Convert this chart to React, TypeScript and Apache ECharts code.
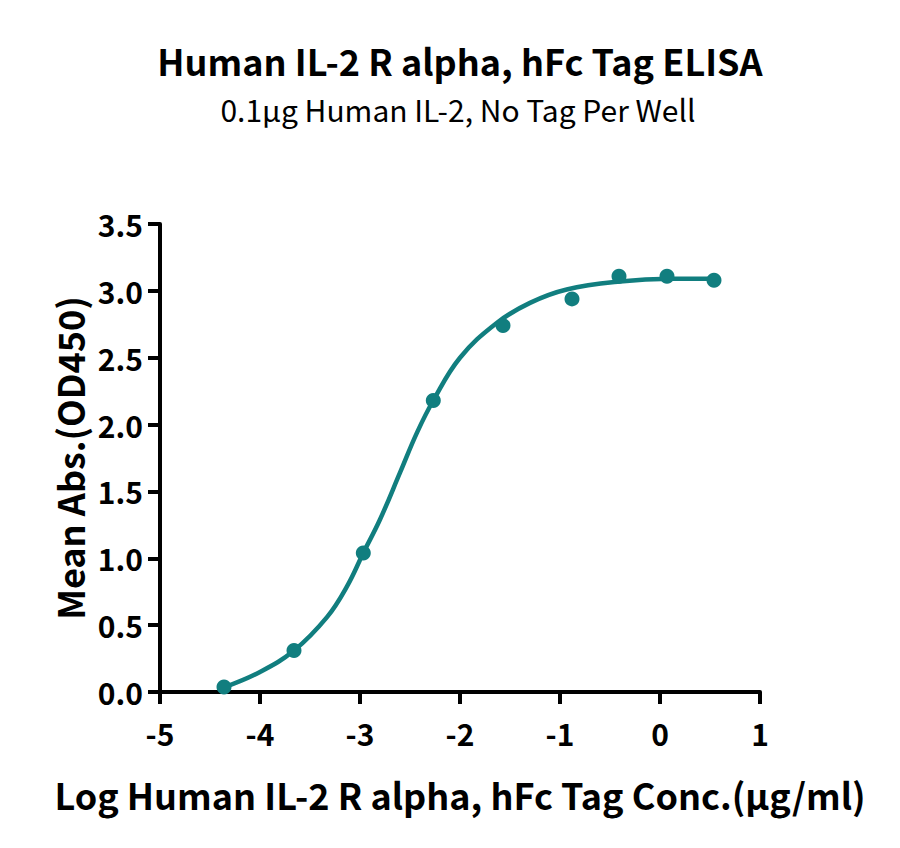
import React, { useEffect, useRef } from "react";
import * as echarts from "echarts";

const TITLE = "Human IL-2 R alpha, hFc Tag ELISA";
const SUBTITLE = "0.1μg Human IL-2, No Tag Per Well";
const X_NAME = "Log Human IL-2 R alpha, hFc Tag Conc.(μg/ml)";
const Y_NAME = "Mean Abs.(OD450)";

// measured points (log conc, OD450)
const pointX = [-4.36, -3.66, -2.967, -2.267, -1.57, -0.88, -0.41, 0.07, 0.54];
const pointY = [0.037, 0.31, 1.04, 2.18, 2.74, 2.94, 3.11, 3.11, 3.08];

// fitted curve
const curveX = [-4.36, -4.0, -3.66, -3.33, -3.13, -2.967, -2.8, -2.6, -2.43, -2.267, -2.0, -1.633, -1.3, -0.933, -0.4, 0.1, 0.54];
const curveY = [0.035, 0.15, 0.31, 0.56, 0.79, 1.04, 1.29, 1.64, 1.94, 2.18, 2.5, 2.76, 2.91, 3.01, 3.07, 3.09, 3.09];

const COLOR = "#117e7f";
const FONT = "'Noto Sans CJK SC', 'Noto Sans', sans-serif";

export default function App() {
  const ref = useRef<HTMLDivElement>(null);
  useEffect(() => {
    document.body.style.margin = "0";
    if (!ref.current) return;
    const chart = echarts.init(ref.current, null, { renderer: "svg" });
    chart.setOption({
      animation: false,
      backgroundColor: "#ffffff",
      textStyle: { fontFamily: FONT },
      graphic: [
        {
          type: "text",
          x: 460,
          y: 60,
          style: {
            text: TITLE,
            font: `bold 36px ${FONT}`,
            lineHeight: 36,
            fill: "#000",
            textAlign: "center",
            textVerticalAlign: "middle",
          },
        },
        {
          type: "text",
          x: 458,
          y: 109,
          style: {
            text: SUBTITLE,
            font: `30px ${FONT}`,
            lineHeight: 30,
            fill: "#000",
            textAlign: "center",
            textVerticalAlign: "middle",
          },
        },
      ],
      grid: { left: 160, right: 140, top: 224, bottom: 156 },
      xAxis: {
        type: "value",
        min: -5,
        max: 1,
        interval: 1,
        name: X_NAME,
        nameLocation: "middle",
        nameGap: 84,
        nameTextStyle: { fontFamily: FONT, fontWeight: "bold", fontSize: 36, color: "#000" },
        splitLine: { show: false },
        axisLine: { onZero: false, lineStyle: { color: "#000", width: 4 } },
        axisTick: { show: true, length: 12, lineStyle: { color: "#000", width: 4 } },
        axisLabel: { fontFamily: FONT, fontWeight: "bold", fontSize: 30, color: "#000", margin: 26 },
      },
      yAxis: {
        type: "value",
        min: 0,
        max: 3.5,
        interval: 0.5,
        name: Y_NAME,
        nameLocation: "middle",
        nameGap: 72,
        nameRotate: 90,
        nameTextStyle: { fontFamily: FONT, fontWeight: "bold", fontSize: 36, color: "#000" },
        splitLine: { show: false },
        axisLine: { show: true, onZero: false, lineStyle: { color: "#000", width: 4 } },
        axisTick: { show: true, length: 12, lineStyle: { color: "#000", width: 4 } },
        axisLabel: {
          fontFamily: FONT,
          fontWeight: "bold",
          fontSize: 30,
          color: "#000",
          margin: 17,
          formatter: (v: number) => v.toFixed(1),
        },
      },
      series: [
        {
          type: "line",
          data: curveX.map((x, i) => [x, curveY[i]]),
          smooth: 0.4,
          showSymbol: false,
          lineStyle: { color: COLOR, width: 4.5 },
          z: 2,
        },
        {
          type: "scatter",
          data: pointX.map((x, i) => [x, pointY[i]]),
          symbolSize: 15,
          itemStyle: { color: COLOR, opacity: 1 },
          z: 3,
        },
      ],
    });
    return () => chart.dispose();
  }, []);
  return <div ref={ref} style={{ width: 900, height: 848 }} />;
}
